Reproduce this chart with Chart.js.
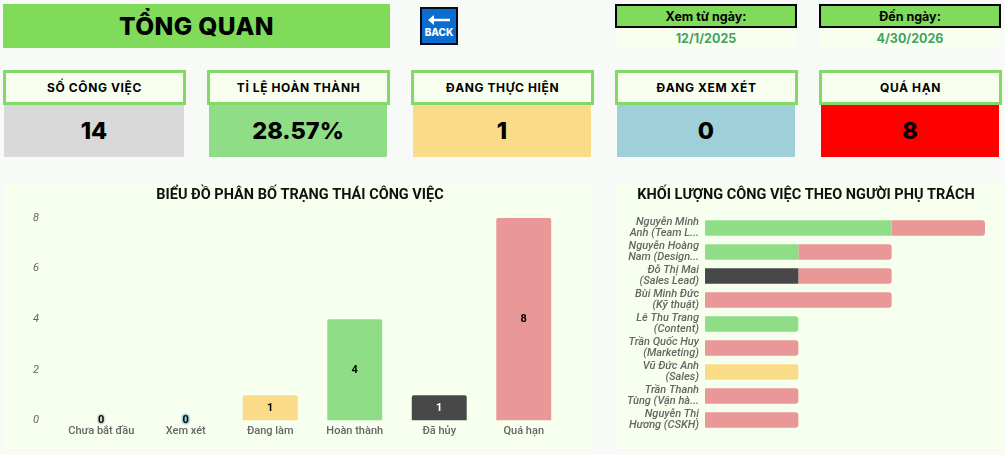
<!DOCTYPE html>
<html lang="vi">
<head>
<meta charset="utf-8">
<title>Tổng quan</title>
<script src="https://cdn.jsdelivr.net/npm/chart.js@4"></script>
<style>
    html, body { margin: 0; padding: 0; width: 1005px; height: 455px; overflow: hidden; background: #f8faf8; }
    body { position: relative; font-family: Inter, sans-serif; color: #000; }
    .box { position: absolute; box-sizing: border-box; display: flex; align-items: center; justify-content: center; white-space: nowrap; }
    #pageTitle { left: 3px; top: 4px; width: 387px; height: 44px; background: #80db5a; font-size: 24.5px; font-weight: 800; letter-spacing: 0.4px; }
    #backBtn { left: 420px; top: 7px; width: 38px; height: 38px; background: #0a6ccf; border: 2px solid #0b0b1a; color: #fff; flex-direction: column; font-size: 10px; font-weight: 800; }
    #backBtn svg { display: block; margin-bottom: 1px; }
    .dateHead { top: 4px; width: 182px; height: 24px; background: #80db5a; border: 2px solid #000; font-size: 12.5px; font-weight: 700; }
    .dateVal { top: 28px; width: 182px; height: 20px; background: #f8ffee; color: #3fa35f; font-size: 12.5px; font-weight: 700; }
    .kpiHead { top: 70px; width: 183px; height: 35px; background: #f8ffee; border: 3px solid #83d968; font-size: 12px; font-weight: 700; letter-spacing: 0.6px; }
    .kpiVal { top: 105px; width: 178px; height: 52px; padding-bottom: 2px; font-size: 23.5px; font-weight: 800; }
    .panel { position: absolute; top: 184px; height: 265px; background: #f7ffee; }
    #leftPanel { left: 5px; width: 587px; }
    #rightPanel { left: 616px; width: 387px; }
    canvas { position: absolute; top: 184px; }
</style>
</head>
<body>
<div class="box" id="pageTitle">TỔNG QUAN</div>
<div class="box" id="backBtn">
    <svg width="22" height="10" viewBox="0 0 22 10"><path d="M0 5 L6 0 L6 3.7 L22 3.7 L22 6.3 L6 6.3 L6 10 Z" fill="#fff"/></svg>
    BACK
</div>
<div class="panel" id="leftPanel"></div>
<div class="panel" id="rightPanel"></div>
<canvas id="statusChart" style="left:5px;width:590px;height:265px"></canvas>
<canvas id="ownerChart" style="left:616px;width:380px;height:265px"></canvas>

<script>
    // --- Data ---
    const dateLabels = ['Xem từ ngày:', 'Đến ngày:'];
    const dateValues = ['12/1/2025', '4/30/2026'];

    const kpiLabels = ['SỐ CÔNG VIỆC', 'TỈ LỆ HOÀN THÀNH', 'ĐANG THỰC HIỆN', 'ĐANG XEM XÉT', 'QUÁ HẠN'];
    const kpiValues = ['14', '28.57%', '1', '0', '8'];
    const kpiColors = ['#d9d9d9', '#90dd87', '#fadc88', '#9fd0da', '#ff0000'];

    const statusLabels = ['Chưa bắt đầu', 'Xem xét', 'Đang làm', 'Hoàn thành', 'Đã hủy', 'Quá hạn'];
    const statusValues = [0, 0, 1, 4, 1, 8];
    const statusColors = ['#d9d9d9', '#9fd0da', '#fadc88', '#90dd87', '#484848', '#e99797'];
    const statusTicks = [0, 2, 4, 6, 8];

    const owners = [
        ['Nguyễn Minh', 'Anh (Team L...'],
        ['Nguyễn Hoàng', 'Nam (Design...'],
        ['Đỗ Thị Mai', '(Sales Lead)'],
        ['Bùi Minh Đức', '(Kỹ thuật)'],
        ['Lê Thu Trang', '(Content)'],
        ['Trần Quốc Huy', '(Marketing)'],
        ['Vũ Đức Anh', '(Sales)'],
        ['Trần Thanh', 'Tùng (Vận hà...'],
        ['Nguyễn Thị', 'Hương (CSKH)']
    ];
    const ownerDone = [2, 1, 0, 0, 1, 0, 0, 0, 0];
    const ownerCancelled = [0, 0, 1, 0, 0, 0, 0, 0, 0];
    const ownerDoing = [0, 0, 0, 0, 0, 0, 1, 0, 0];
    const ownerLate = [1, 1, 1, 2, 0, 1, 0, 1, 1];

    // --- Header boxes ---
    function addBox(className, text, left, background) {
        const el = document.createElement('div');
        el.className = 'box ' + className;
        el.textContent = text;
        el.style.left = left + 'px';
        if (background) el.style.background = background;
        document.body.appendChild(el);
        return el;
    }

    const dateLefts = [615, 819];
    dateLabels.forEach((label, i) => {
        addBox('dateHead', label, dateLefts[i]);
        addBox('dateVal', dateValues[i], dateLefts[i]);
    });

    const kpiLefts = [3, 207, 411, 615, 819];
    kpiLabels.forEach((label, i) => {
        addBox('kpiHead', label, kpiLefts[i]);
        const val = addBox('kpiVal', kpiValues[i], kpiLefts[i] + 2, kpiColors[i]);
        // first card is a bit wider in the original sheet
        if (i === 0) { val.style.left = '4px'; val.style.width = '180px'; }
    });

    // --- Charts ---
    const titleOptions = (text, gap) => ({
        display: true,
        text: text,
        color: '#111',
        font: { family: 'Roboto', size: 14.5, weight: '700' },
        padding: { top: 3, bottom: gap }
    });

    // value labels in the middle of each bar, zero bars get a coloured halo
    const barValueLabels = {
        id: 'barValueLabels',
        afterDatasetsDraw(chart) {
            const ctx = chart.ctx;
            ctx.save();
            ctx.font = '700 11px Roboto';
            ctx.textAlign = 'center';
            ctx.textBaseline = 'middle';
            chart.getDatasetMeta(0).data.forEach((bar, i) => {
                const value = statusValues[i];
                const y = value === 0 ? bar.y : (bar.y + bar.base) / 2;
                if (value === 0) {
                    ctx.lineWidth = 3;
                    ctx.strokeStyle = statusColors[i];
                    ctx.strokeText(value, bar.x, y);
                }
                ctx.fillStyle = statusColors[i] === '#484848' ? '#fff' : '#000';
                ctx.fillText(value, bar.x, y);
            });
            ctx.restore();
        }
    };

    new Chart(document.getElementById('statusChart'), {
        type: 'bar',
        data: {
            labels: statusLabels,
            datasets: [{
                data: statusValues,
                backgroundColor: statusColors,
                categoryPercentage: 1,
                barPercentage: 0.65,
                borderRadius: { topLeft: 2, topRight: 2, bottomLeft: 0, bottomRight: 0 },
                borderSkipped: false
            }]
        },
        plugins: [barValueLabels],
        options: {
            responsive: false,
            animation: false,
            plugins: {
                legend: { display: false },
                tooltip: { enabled: false },
                title: titleOptions('BIỂU ĐỒ PHÂN BỐ TRẠNG THÁI CÔNG VIỆC', 13.6)
            },
            scales: {
                x: {
                    grid: { display: false, drawTicks: false },
                    border: { display: false },
                    afterFit: (axis) => { axis.height = 28.5; axis.paddingLeft = 0; axis.paddingRight = 0; },
                    ticks: { color: '#666', padding: 4, font: { family: 'Roboto', size: 11, weight: '500' }, maxRotation: 0 }
                },
                y: {
                    min: 0,
                    max: 8,
                    // paddingRight narrows the plot but leaves the title centred on the canvas
                    afterFit: (axis) => { axis.width = 54; axis.paddingTop = 0; axis.paddingBottom = 0; axis.paddingRight = 29; },
                    afterBuildTicks: (axis) => { axis.ticks = statusTicks.map(v => ({ value: v })); },
                    grid: { display: false, drawTicks: false },
                    border: { display: false },
                    ticks: { color: '#666', padding: 20, font: { family: 'Roboto', size: 11, style: 'italic' } }
                }
            }
        }
    });

    const ownerSeries = [
        { data: ownerDone, color: '#90dd87' },
        { data: ownerCancelled, color: '#484848' },
        { data: ownerDoing, color: '#fadc88' },
        { data: ownerLate, color: '#e99797' }
    ];

    // only the last segment of a stacked row has a rounded end
    const endRadius = (seriesIndex) => (ctx) => {
        const isLast = ownerSeries.slice(seriesIndex + 1).every(s => s.data[ctx.dataIndex] === 0);
        const r = isLast ? 3 : 0;
        return { topRight: r, bottomRight: r, topLeft: 0, bottomLeft: 0 };
    };

    new Chart(document.getElementById('ownerChart'), {
        type: 'bar',
        data: {
            labels: owners,
            datasets: ownerSeries.map((s, i) => ({
                data: s.data,
                backgroundColor: s.color,
                categoryPercentage: 1,
                barPercentage: 0.65,
                borderSkipped: false,
                borderRadius: endRadius(i)
            }))
        },
        options: {
            indexAxis: 'y',
            responsive: false,
            animation: false,
            layout: { padding: { bottom: 17 } },
            plugins: {
                legend: { display: false },
                tooltip: { enabled: false },
                title: titleOptions('KHỐI LƯỢNG CÔNG VIỆC THEO NGƯỜI PHỤ TRÁCH', 11.6)
            },
            scales: {
                x: { display: false, stacked: true, min: 0, max: 3 },
                y: {
                    stacked: true,
                    afterFit: (axis) => { axis.width = 89; axis.paddingTop = 0; axis.paddingBottom = 0; axis.paddingRight = 11; },
                    grid: { display: false, drawTicks: false },
                    border: { display: false },
                    ticks: { color: '#666', padding: 6, autoSkip: false, font: { family: 'Roboto', size: 11, weight: '500', style: 'italic', lineHeight: 1 } }
                }
            }
        }
    });
</script>
</body>
</html>
